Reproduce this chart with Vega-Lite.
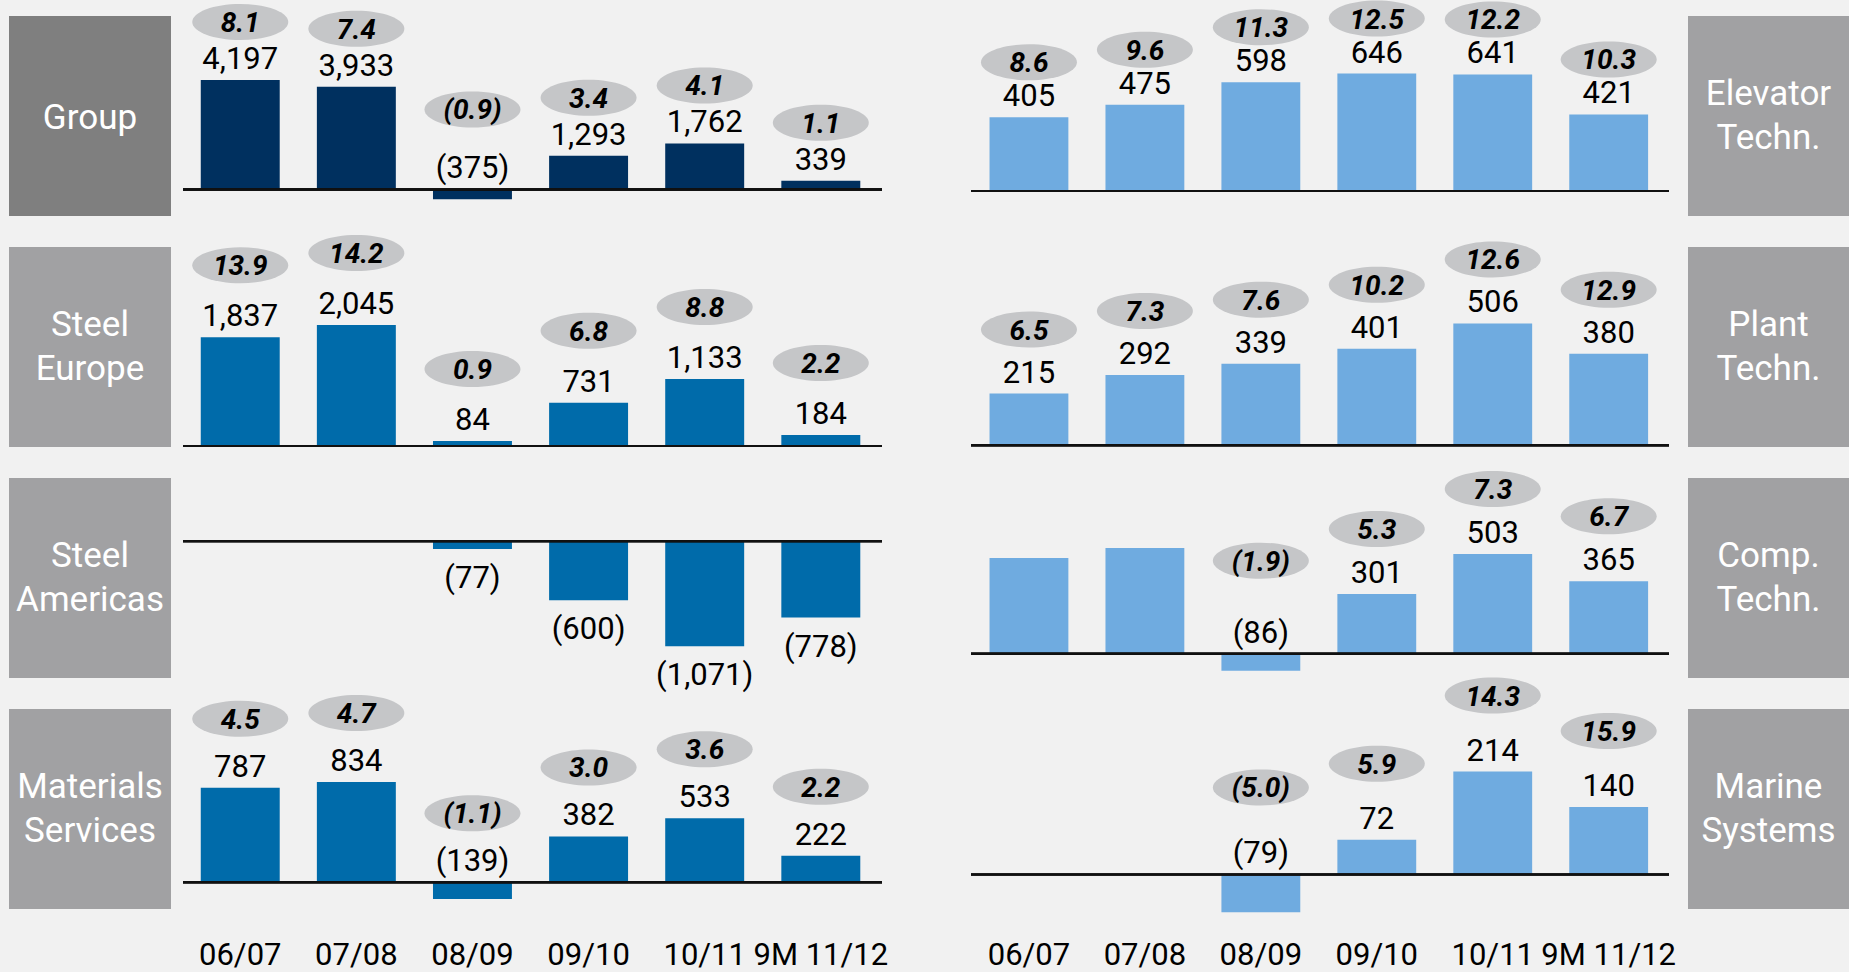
{
"$schema": "https://vega.github.io/schema/vega-lite/v6.json",
"background": "#f1f1f1",
"padding": {"left": 9, "top": 0, "right": 0, "bottom": 4},
"bounds": "flush",
"columns": 7,
"spacing": {"row": 31, "column": 0},
"config": {
  "font": "Roboto",
  "view": {"stroke": null},
  "axis": {"grid": false, "domain": false, "ticks": false, "title": null},
  "axisX": {"labelFontSize": 31, "labelPadding": 31, "labelColor": "#000000", "labelAngle": 0, "labelOverlap": false, "labelBound": false, "labelLimit": 300}
},
"datasets": {
  "d": [
    {"s": "G", "p": "06/07", "v": 4197, "m": 8.1},
    {"s": "G", "p": "07/08", "v": 3933, "m": 7.4},
    {"s": "G", "p": "08/09", "v": -375, "m": -0.9},
    {"s": "G", "p": "09/10", "v": 1293, "m": 3.4},
    {"s": "G", "p": "10/11", "v": 1762, "m": 4.1},
    {"s": "G", "p": "9M 11/12", "v": 339, "m": 1.1},
    {"s": "SE", "p": "06/07", "v": 1837, "m": 13.9},
    {"s": "SE", "p": "07/08", "v": 2045, "m": 14.2},
    {"s": "SE", "p": "08/09", "v": 84, "m": 0.9},
    {"s": "SE", "p": "09/10", "v": 731, "m": 6.8},
    {"s": "SE", "p": "10/11", "v": 1133, "m": 8.8},
    {"s": "SE", "p": "9M 11/12", "v": 184, "m": 2.2},
    {"s": "SA", "p": "08/09", "v": -77, "m": null},
    {"s": "SA", "p": "09/10", "v": -600, "m": null},
    {"s": "SA", "p": "10/11", "v": -1071, "m": null},
    {"s": "SA", "p": "9M 11/12", "v": -778, "m": null},
    {"s": "MS", "p": "06/07", "v": 787, "m": 4.5},
    {"s": "MS", "p": "07/08", "v": 834, "m": 4.7},
    {"s": "MS", "p": "08/09", "v": -139, "m": -1.1},
    {"s": "MS", "p": "09/10", "v": 382, "m": 3.0},
    {"s": "MS", "p": "10/11", "v": 533, "m": 3.6},
    {"s": "MS", "p": "9M 11/12", "v": 222, "m": 2.2},
    {"s": "ET", "p": "06/07", "v": 405, "m": 8.6},
    {"s": "ET", "p": "07/08", "v": 475, "m": 9.6},
    {"s": "ET", "p": "08/09", "v": 598, "m": 11.3},
    {"s": "ET", "p": "09/10", "v": 646, "m": 12.5},
    {"s": "ET", "p": "10/11", "v": 641, "m": 12.2},
    {"s": "ET", "p": "9M 11/12", "v": 421, "m": 10.3},
    {"s": "PT", "p": "06/07", "v": 215, "m": 6.5},
    {"s": "PT", "p": "07/08", "v": 292, "m": 7.3},
    {"s": "PT", "p": "08/09", "v": 339, "m": 7.6},
    {"s": "PT", "p": "09/10", "v": 401, "m": 10.2},
    {"s": "PT", "p": "10/11", "v": 506, "m": 12.6},
    {"s": "PT", "p": "9M 11/12", "v": 380, "m": 12.9},
    {"s": "CT", "p": "06/07", "v": 483, "m": null},
    {"s": "CT", "p": "07/08", "v": 534, "m": null},
    {"s": "CT", "p": "08/09", "v": -86, "m": -1.9},
    {"s": "CT", "p": "09/10", "v": 301, "m": 5.3},
    {"s": "CT", "p": "10/11", "v": 503, "m": 7.3},
    {"s": "CT", "p": "9M 11/12", "v": 365, "m": 6.7},
    {"s": "MY", "p": "08/09", "v": -79, "m": -5.0},
    {"s": "MY", "p": "09/10", "v": 72, "m": 5.9},
    {"s": "MY", "p": "10/11", "v": 214, "m": 14.3},
    {"s": "MY", "p": "9M 11/12", "v": 140, "m": 15.9}
  ]
},
"concat": [
  {"width": 162, "height": 200, "view": {"fill": "#7f7f7f", "stroke": null}, "data": {"values": [{}]},
   "mark": {"type": "text", "text": "Group", "color": "#ffffff", "fontSize": 35, "baseline": "middle", "align": "center", "dy": 2}, "encoding": {}},
  {"width": 12, "height": 200, "data": {"values": [{}]}, "mark": {"type": "text", "text": ""}, "encoding": {}},
  {"width": 699, "height": 200, "data": {"name": "d"},
   "transform": [{"filter": "datum.s === 'G'"}, {"calculate": "max(datum.v, 0)", "as": "a"}],
   "layer": [
     {"mark": {"type": "bar", "color": "#00305f"},
      "encoding": {"x": {"field": "p", "type": "nominal", "sort": null, "scale": {"domain": ["06/07","07/08","08/09","09/10","10/11","9M 11/12"], "paddingInner": 0.32, "paddingOuter": 0.17, "align": 0.45}, "axis": null},
                   "y": {"field": "v", "type": "quantitative", "scale": {"domain": [-1015, 6645], "nice": false, "zero": false}, "axis": null}}},
     {"mark": {"type": "rule", "color": "#111111", "strokeWidth": 2}, "encoding": {"y": {"datum": 0, "type": "quantitative"}}},
     {"transform": [{"filter": "isValid(datum.m)"}],
      "encoding": {"x": {"field": "p", "type": "nominal", "sort": null, "axis": null}, "y": {"field": "a", "type": "quantitative", "axis": null}},
      "layer": [
        {"mark": {"type": "text", "fontSize": 31, "baseline": "alphabetic", "dy": -11, "color": "#000000"}, "encoding": {"text": {"field": "v", "type": "quantitative", "format": "(,d"}}},
        {"transform": [{"filter": "datum.v >= 0"}], "layer": [
          {"mark": {"type": "point", "shape": "M-1,0C-1,-0.2071,-0.5523,-0.375,0,-0.375C0.5523,-0.375,1,-0.2071,1,0C1,0.2071,0.5523,0.375,0,0.375C-0.5523,0.375,-1,0.2071,-1,0Z", "size": 9216, "filled": true, "color": "#c5c6c8", "opacity": 1, "strokeWidth": 0, "yOffset": -58}, "encoding": {}},
          {"mark": {"type": "text", "fontSize": 28, "fontWeight": "bold", "fontStyle": "italic", "baseline": "alphabetic", "dy": 10, "yOffset": -58, "color": "#000000"}, "encoding": {"text": {"field": "m", "type": "quantitative", "format": "(.1f"}}}
        ]},
        {"transform": [{"filter": "datum.v < 0"}], "layer": [
          {"mark": {"type": "point", "shape": "M-1,0C-1,-0.2071,-0.5523,-0.375,0,-0.375C0.5523,-0.375,1,-0.2071,1,0C1,0.2071,0.5523,0.375,0,0.375C-0.5523,0.375,-1,0.2071,-1,0Z", "size": 9216, "filled": true, "color": "#c5c6c8", "opacity": 1, "strokeWidth": 0, "yOffset": -80}, "encoding": {}},
          {"mark": {"type": "text", "fontSize": 28, "fontWeight": "bold", "fontStyle": "italic", "baseline": "alphabetic", "dy": 10, "yOffset": -80, "color": "#000000"}, "encoding": {"text": {"field": "m", "type": "quantitative", "format": "(.1f"}}}
        ]}
      ]}
   ]},
  {"width": 89, "height": 200, "data": {"values": [{}]}, "mark": {"type": "text", "text": ""}, "encoding": {}},
  {"width": 698, "height": 200, "data": {"name": "d"},
   "transform": [{"filter": "datum.s === 'ET'"}, {"calculate": "max(datum.v, 0)", "as": "a"}],
   "layer": [
     {"mark": {"type": "bar", "color": "#6fabe0"},
      "encoding": {"x": {"field": "p", "type": "nominal", "sort": null, "scale": {"domain": ["06/07","07/08","08/09","09/10","10/11","9M 11/12"], "paddingInner": 0.32, "paddingOuter": 0.17, "align": 0.47}, "axis": null},
                   "y": {"field": "v", "type": "quantitative", "scale": {"domain": [-137.5, 962.5], "nice": false, "zero": false}, "axis": null}}},
     {"mark": {"type": "rule", "color": "#111111", "strokeWidth": 2}, "encoding": {"y": {"datum": 0, "type": "quantitative"}}},
     {"transform": [{"filter": "isValid(datum.m)"}],
      "encoding": {"x": {"field": "p", "type": "nominal", "sort": null, "axis": null}, "y": {"field": "a", "type": "quantitative", "axis": null}},
      "layer": [
        {"mark": {"type": "text", "fontSize": 31, "baseline": "alphabetic", "dy": -11, "color": "#000000"}, "encoding": {"text": {"field": "v", "type": "quantitative", "format": "(,d"}}},
        {"mark": {"type": "point", "shape": "M-1,0C-1,-0.2071,-0.5523,-0.375,0,-0.375C0.5523,-0.375,1,-0.2071,1,0C1,0.2071,0.5523,0.375,0,0.375C-0.5523,0.375,-1,0.2071,-1,0Z", "size": 9216, "filled": true, "color": "#c5c6c8", "opacity": 1, "strokeWidth": 0, "yOffset": -55}, "encoding": {}},
        {"mark": {"type": "text", "fontSize": 28, "fontWeight": "bold", "fontStyle": "italic", "baseline": "alphabetic", "dy": 10, "yOffset": -55, "color": "#000000"}, "encoding": {"text": {"field": "m", "type": "quantitative", "format": "(.1f"}}}
      ]}
   ]},
  {"width": 19, "height": 200, "data": {"values": [{}]}, "mark": {"type": "text", "text": ""}, "encoding": {}},
  {"width": 161, "height": 200, "view": {"fill": "#a1a1a3", "stroke": null}, "data": {"values": [{}]},
   "mark": {"type": "text", "text": ["Elevator", "Techn."], "lineHeight": 44, "color": "#ffffff", "fontSize": 35, "baseline": "middle", "align": "center", "dy": -22}, "encoding": {}},

  {"width": 162, "height": 200, "view": {"fill": "#a1a1a3", "stroke": null}, "data": {"values": [{}]},
   "mark": {"type": "text", "text": ["Steel", "Europe"], "lineHeight": 44, "color": "#ffffff", "fontSize": 35, "baseline": "middle", "align": "center", "dy": -22}, "encoding": {}},
  {"width": 12, "height": 200, "data": {"values": [{}]}, "mark": {"type": "text", "text": ""}, "encoding": {}},
  {"width": 699, "height": 200, "data": {"name": "d"},
   "transform": [{"filter": "datum.s === 'SE'"}, {"calculate": "max(datum.v, 0)", "as": "a"}],
   "layer": [
     {"mark": {"type": "bar", "color": "#006baa"},
      "encoding": {"x": {"field": "p", "type": "nominal", "sort": null, "scale": {"domain": ["06/07","07/08","08/09","09/10","10/11","9M 11/12"], "paddingInner": 0.32, "paddingOuter": 0.17, "align": 0.45}, "axis": null},
                   "y": {"field": "v", "type": "quantitative", "scale": {"domain": [-17, 3363], "nice": false, "zero": false}, "axis": null}}},
     {"mark": {"type": "rule", "color": "#111111", "strokeWidth": 2}, "encoding": {"y": {"datum": 0, "type": "quantitative"}}},
     {"transform": [{"filter": "isValid(datum.m)"}],
      "encoding": {"x": {"field": "p", "type": "nominal", "sort": null, "axis": null}, "y": {"field": "a", "type": "quantitative", "axis": null}},
      "layer": [
        {"mark": {"type": "text", "fontSize": 31, "baseline": "alphabetic", "dy": -11, "color": "#000000"}, "encoding": {"text": {"field": "v", "type": "quantitative", "format": "(,d"}}},
        {"mark": {"type": "point", "shape": "M-1,0C-1,-0.2071,-0.5523,-0.375,0,-0.375C0.5523,-0.375,1,-0.2071,1,0C1,0.2071,0.5523,0.375,0,0.375C-0.5523,0.375,-1,0.2071,-1,0Z", "size": 9216, "filled": true, "color": "#c5c6c8", "opacity": 1, "strokeWidth": 0, "yOffset": -72}, "encoding": {}},
        {"mark": {"type": "text", "fontSize": 28, "fontWeight": "bold", "fontStyle": "italic", "baseline": "alphabetic", "dy": 10, "yOffset": -72, "color": "#000000"}, "encoding": {"text": {"field": "m", "type": "quantitative", "format": "(.1f"}}}
      ]}
   ]},
  {"width": 89, "height": 200, "data": {"values": [{}]}, "mark": {"type": "text", "text": ""}, "encoding": {}},
  {"width": 698, "height": 200, "data": {"name": "d"},
   "transform": [{"filter": "datum.s === 'PT'"}, {"calculate": "max(datum.v, 0)", "as": "a"}],
   "layer": [
     {"mark": {"type": "bar", "color": "#6fabe0"},
      "encoding": {"x": {"field": "p", "type": "nominal", "sort": null, "scale": {"domain": ["06/07","07/08","08/09","09/10","10/11","9M 11/12"], "paddingInner": 0.32, "paddingOuter": 0.17, "align": 0.47}, "axis": null},
                   "y": {"field": "v", "type": "quantitative", "scale": {"domain": [-7, 823], "nice": false, "zero": false}, "axis": null}}},
     {"mark": {"type": "rule", "color": "#111111", "strokeWidth": 2}, "encoding": {"y": {"datum": 0, "type": "quantitative"}}},
     {"transform": [{"filter": "isValid(datum.m)"}],
      "encoding": {"x": {"field": "p", "type": "nominal", "sort": null, "axis": null}, "y": {"field": "a", "type": "quantitative", "axis": null}},
      "layer": [
        {"mark": {"type": "text", "fontSize": 31, "baseline": "alphabetic", "dy": -11, "color": "#000000"}, "encoding": {"text": {"field": "v", "type": "quantitative", "format": "(,d"}}},
        {"mark": {"type": "point", "shape": "M-1,0C-1,-0.2071,-0.5523,-0.375,0,-0.375C0.5523,-0.375,1,-0.2071,1,0C1,0.2071,0.5523,0.375,0,0.375C-0.5523,0.375,-1,0.2071,-1,0Z", "size": 9216, "filled": true, "color": "#c5c6c8", "opacity": 1, "strokeWidth": 0, "yOffset": -64}, "encoding": {}},
        {"mark": {"type": "text", "fontSize": 28, "fontWeight": "bold", "fontStyle": "italic", "baseline": "alphabetic", "dy": 10, "yOffset": -64, "color": "#000000"}, "encoding": {"text": {"field": "m", "type": "quantitative", "format": "(.1f"}}}
      ]}
   ]},
  {"width": 19, "height": 200, "data": {"values": [{}]}, "mark": {"type": "text", "text": ""}, "encoding": {}},
  {"width": 161, "height": 200, "view": {"fill": "#a1a1a3", "stroke": null}, "data": {"values": [{}]},
   "mark": {"type": "text", "text": ["Plant", "Techn."], "lineHeight": 44, "color": "#ffffff", "fontSize": 35, "baseline": "middle", "align": "center", "dy": -22}, "encoding": {}},

  {"width": 162, "height": 200, "view": {"fill": "#a1a1a3", "stroke": null}, "data": {"values": [{}]},
   "mark": {"type": "text", "text": ["Steel", "Americas"], "lineHeight": 44, "color": "#ffffff", "fontSize": 35, "baseline": "middle", "align": "center", "dy": -22}, "encoding": {}},
  {"width": 12, "height": 200, "data": {"values": [{}]}, "mark": {"type": "text", "text": ""}, "encoding": {}},
  {"width": 699, "height": 200, "data": {"name": "d"},
   "transform": [{"filter": "datum.s === 'SA'"}],
   "layer": [
     {"mark": {"type": "bar", "color": "#006baa"},
      "encoding": {"x": {"field": "p", "type": "nominal", "sort": null, "scale": {"domain": ["06/07","07/08","08/09","09/10","10/11","9M 11/12"], "paddingInner": 0.32, "paddingOuter": 0.17, "align": 0.45}, "axis": null},
                   "y": {"field": "v", "type": "quantitative", "scale": {"domain": [-1394, 646], "nice": false, "zero": false}, "axis": null}}},
     {"mark": {"type": "rule", "color": "#111111", "strokeWidth": 2}, "encoding": {"y": {"datum": 0, "type": "quantitative"}}},
     {"mark": {"type": "text", "fontSize": 31, "baseline": "middle", "dy": 30, "color": "#000000"},
      "encoding": {"x": {"field": "p", "type": "nominal", "sort": null, "axis": null}, "y": {"field": "v", "type": "quantitative", "axis": null}, "text": {"field": "v", "type": "quantitative", "format": "(,d"}}}
   ]},
  {"width": 89, "height": 200, "data": {"values": [{}]}, "mark": {"type": "text", "text": ""}, "encoding": {}},
  {"width": 698, "height": 200, "data": {"name": "d"},
   "transform": [{"filter": "datum.s === 'CT'"}, {"calculate": "max(datum.v, 0)", "as": "a"}],
   "layer": [
     {"mark": {"type": "bar", "color": "#6fabe0"},
      "encoding": {"x": {"field": "p", "type": "nominal", "sort": null, "scale": {"domain": ["06/07","07/08","08/09","09/10","10/11","9M 11/12"], "paddingInner": 0.32, "paddingOuter": 0.17, "align": 0.47}, "axis": null},
                   "y": {"field": "v", "type": "quantitative", "scale": {"domain": [-123, 887], "nice": false, "zero": false}, "axis": null}}},
     {"mark": {"type": "rule", "color": "#111111", "strokeWidth": 2}, "encoding": {"y": {"datum": 0, "type": "quantitative"}}},
     {"transform": [{"filter": "isValid(datum.m)"}],
      "encoding": {"x": {"field": "p", "type": "nominal", "sort": null, "axis": null}, "y": {"field": "a", "type": "quantitative", "axis": null}},
      "layer": [
        {"mark": {"type": "text", "fontSize": 31, "baseline": "alphabetic", "dy": -11, "color": "#000000"}, "encoding": {"text": {"field": "v", "type": "quantitative", "format": "(,d"}}},
        {"transform": [{"filter": "datum.v >= 0"}], "layer": [
          {"mark": {"type": "point", "shape": "M-1,0C-1,-0.2071,-0.5523,-0.375,0,-0.375C0.5523,-0.375,1,-0.2071,1,0C1,0.2071,0.5523,0.375,0,0.375C-0.5523,0.375,-1,0.2071,-1,0Z", "size": 9216, "filled": true, "color": "#c5c6c8", "opacity": 1, "strokeWidth": 0, "yOffset": -65}, "encoding": {}},
          {"mark": {"type": "text", "fontSize": 28, "fontWeight": "bold", "fontStyle": "italic", "baseline": "alphabetic", "dy": 10, "yOffset": -65, "color": "#000000"}, "encoding": {"text": {"field": "m", "type": "quantitative", "format": "(.1f"}}}
        ]},
        {"transform": [{"filter": "datum.v < 0"}], "layer": [
          {"mark": {"type": "point", "shape": "M-1,0C-1,-0.2071,-0.5523,-0.375,0,-0.375C0.5523,-0.375,1,-0.2071,1,0C1,0.2071,0.5523,0.375,0,0.375C-0.5523,0.375,-1,0.2071,-1,0Z", "size": 9216, "filled": true, "color": "#c5c6c8", "opacity": 1, "strokeWidth": 0, "yOffset": -93}, "encoding": {}},
          {"mark": {"type": "text", "fontSize": 28, "fontWeight": "bold", "fontStyle": "italic", "baseline": "alphabetic", "dy": 10, "yOffset": -93, "color": "#000000"}, "encoding": {"text": {"field": "m", "type": "quantitative", "format": "(.1f"}}}
        ]}
      ]}
   ]},
  {"width": 19, "height": 200, "data": {"values": [{}]}, "mark": {"type": "text", "text": ""}, "encoding": {}},
  {"width": 161, "height": 200, "view": {"fill": "#a1a1a3", "stroke": null}, "data": {"values": [{}]},
   "mark": {"type": "text", "text": ["Comp.", "Techn."], "lineHeight": 44, "color": "#ffffff", "fontSize": 35, "baseline": "middle", "align": "center", "dy": -22}, "encoding": {}},

  {"width": 162, "height": 200, "view": {"fill": "#a1a1a3", "stroke": null}, "data": {"values": [{}]},
   "mark": {"type": "text", "text": ["Materials", "Services"], "lineHeight": 44, "color": "#ffffff", "fontSize": 35, "baseline": "middle", "align": "center", "dy": -22}, "encoding": {}},
  {"width": 12, "height": 200, "data": {"values": [{}]}, "mark": {"type": "text", "text": ""}, "encoding": {}},
  {"width": 699, "height": 200, "data": {"name": "d"},
   "transform": [{"filter": "datum.s === 'MS'"}, {"calculate": "max(datum.v, 0)", "as": "a"}],
   "layer": [
     {"mark": {"type": "bar", "color": "#006baa"},
      "encoding": {"x": {"field": "p", "type": "nominal", "sort": null, "scale": {"domain": ["06/07","07/08","08/09","09/10","10/11","9M 11/12"], "paddingInner": 0.32, "paddingOuter": 0.17, "align": 0.45}},
                   "y": {"field": "v", "type": "quantitative", "scale": {"domain": [-222, 1442], "nice": false, "zero": false}, "axis": null}}},
     {"mark": {"type": "rule", "color": "#111111", "strokeWidth": 2}, "encoding": {"y": {"datum": 0, "type": "quantitative"}}},
     {"transform": [{"filter": "isValid(datum.m)"}],
      "encoding": {"x": {"field": "p", "type": "nominal", "sort": null}, "y": {"field": "a", "type": "quantitative", "axis": null}},
      "layer": [
        {"mark": {"type": "text", "fontSize": 31, "baseline": "alphabetic", "dy": -11, "color": "#000000"}, "encoding": {"text": {"field": "v", "type": "quantitative", "format": "(,d"}}},
        {"mark": {"type": "point", "shape": "M-1,0C-1,-0.2071,-0.5523,-0.375,0,-0.375C0.5523,-0.375,1,-0.2071,1,0C1,0.2071,0.5523,0.375,0,0.375C-0.5523,0.375,-1,0.2071,-1,0Z", "size": 9216, "filled": true, "color": "#c5c6c8", "opacity": 1, "strokeWidth": 0, "yOffset": -69}, "encoding": {}},
        {"mark": {"type": "text", "fontSize": 28, "fontWeight": "bold", "fontStyle": "italic", "baseline": "alphabetic", "dy": 10, "yOffset": -69, "color": "#000000"}, "encoding": {"text": {"field": "m", "type": "quantitative", "format": "(.1f"}}}
      ]}
   ]},
  {"width": 89, "height": 200, "data": {"values": [{}]}, "mark": {"type": "text", "text": ""}, "encoding": {}},
  {"width": 698, "height": 200, "data": {"name": "d"},
   "transform": [{"filter": "datum.s === 'MY'"}, {"calculate": "max(datum.v, 0)", "as": "a"}],
   "layer": [
     {"mark": {"type": "bar", "color": "#6fabe0"},
      "encoding": {"x": {"field": "p", "type": "nominal", "sort": null, "scale": {"domain": ["06/07","07/08","08/09","09/10","10/11","9M 11/12"], "paddingInner": 0.32, "paddingOuter": 0.17, "align": 0.47}},
                   "y": {"field": "v", "type": "quantitative", "scale": {"domain": [-72, 344], "nice": false, "zero": false}, "axis": null}}},
     {"mark": {"type": "rule", "color": "#111111", "strokeWidth": 2}, "encoding": {"y": {"datum": 0, "type": "quantitative"}}},
     {"transform": [{"filter": "isValid(datum.m)"}],
      "encoding": {"x": {"field": "p", "type": "nominal", "sort": null}, "y": {"field": "a", "type": "quantitative", "axis": null}},
      "layer": [
        {"mark": {"type": "text", "fontSize": 31, "baseline": "alphabetic", "dy": -11, "color": "#000000"}, "encoding": {"text": {"field": "v", "type": "quantitative", "format": "(,d"}}},
        {"transform": [{"filter": "datum.v >= 0"}], "layer": [
          {"mark": {"type": "point", "shape": "M-1,0C-1,-0.2071,-0.5523,-0.375,0,-0.375C0.5523,-0.375,1,-0.2071,1,0C1,0.2071,0.5523,0.375,0,0.375C-0.5523,0.375,-1,0.2071,-1,0Z", "size": 9216, "filled": true, "color": "#c5c6c8", "opacity": 1, "strokeWidth": 0, "yOffset": -76}, "encoding": {}},
          {"mark": {"type": "text", "fontSize": 28, "fontWeight": "bold", "fontStyle": "italic", "baseline": "alphabetic", "dy": 10, "yOffset": -76, "color": "#000000"}, "encoding": {"text": {"field": "m", "type": "quantitative", "format": "(.1f"}}}
        ]},
        {"transform": [{"filter": "datum.v < 0"}], "layer": [
          {"mark": {"type": "point", "shape": "M-1,0C-1,-0.2071,-0.5523,-0.375,0,-0.375C0.5523,-0.375,1,-0.2071,1,0C1,0.2071,0.5523,0.375,0,0.375C-0.5523,0.375,-1,0.2071,-1,0Z", "size": 9216, "filled": true, "color": "#c5c6c8", "opacity": 1, "strokeWidth": 0, "yOffset": -87}, "encoding": {}},
          {"mark": {"type": "text", "fontSize": 28, "fontWeight": "bold", "fontStyle": "italic", "baseline": "alphabetic", "dy": 10, "yOffset": -87, "color": "#000000"}, "encoding": {"text": {"field": "m", "type": "quantitative", "format": "(.1f"}}}
        ]}
      ]}
   ]},
  {"width": 19, "height": 200, "data": {"values": [{}]}, "mark": {"type": "text", "text": ""}, "encoding": {}},
  {"width": 161, "height": 200, "view": {"fill": "#a1a1a3", "stroke": null}, "data": {"values": [{}]},
   "mark": {"type": "text", "text": ["Marine", "Systems"], "lineHeight": 44, "color": "#ffffff", "fontSize": 35, "baseline": "middle", "align": "center", "dy": -22}, "encoding": {}}
]
}
